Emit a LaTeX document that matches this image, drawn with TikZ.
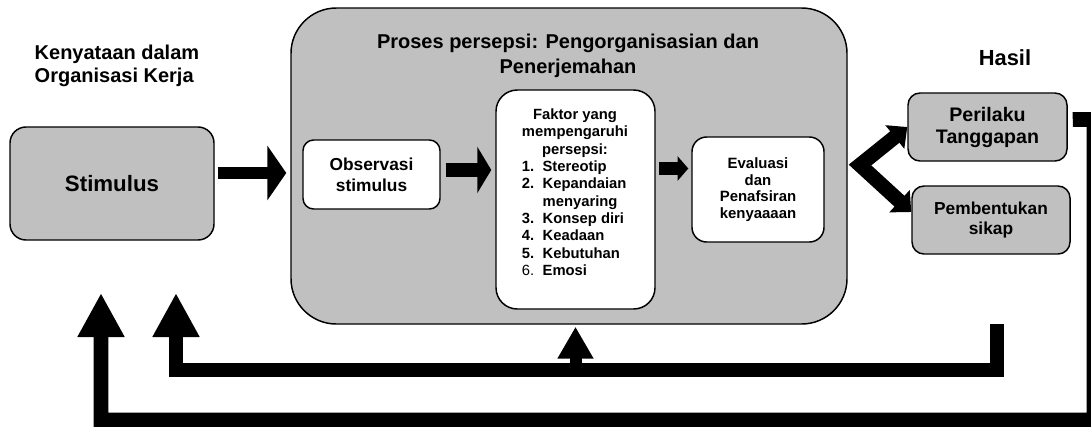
\documentclass[tikz,border=0pt]{standalone}
\usepackage{fontspec}
\setmainfont{Liberation Sans}
\usetikzlibrary{positioning}
\usetikzlibrary{arrows.meta}
\definecolor{boxgray}{RGB}{192,192,192}

\begin{document}
\begin{tikzpicture}[x=0.75pt,y=-0.75pt,
graybox/.style={rectangle,draw=black,line width=1.1pt,fill=boxgray,align=center,inner sep=0pt},
whitebox/.style={rectangle,draw=black,line width=1.1pt,fill=white,align=center,inner sep=0pt},
heading/.style={font=\bfseries\fontsize{15}{17.25}\selectfont},
bigarrow/.style={line width=9pt,-{Triangle[length=14.25pt,width=40.5pt]}},
obsarrow/.style={line width=10.5pt,-{Triangle[length=10.5pt,width=34.5pt]}},
fakarrow/.style={line width=9.75pt,-{Triangle[length=8pt,width=18pt]}},
forkarrow/.style={line width=11pt,line join=miter,{Triangle[length=12pt,width=22pt]}-{Triangle[length=12pt,width=22pt]}},
fbarrow/.style={line width=11pt,line join=miter,-{Triangle[length=33pt,width=33pt]}},
midarrow/.style={line width=9pt,-{Triangle[length=24pt,width=25.5pt]}}]
\useasboundingbox (0,0) rectangle (1091,426);
\clip (0,0) rectangle (1091,426);

\node[graybox,rounded corners=34pt,minimum width=417pt,minimum height=237pt] (proc) at (569,166) {};
\node[heading,font=\bfseries\fontsize{15}{18.75}\selectfont,align=center] (proctitle) at (568,55.5) {Proses persepsi: Pengorganisasian dan\\Penerjemahan};
\node[heading,align=left,anchor=west] (real) at (30,66) {Kenyataan dalam\\Organisasi Kerja};
\node[heading,font=\bfseries\fontsize{16.4}{20}\selectfont] (hasil) at (1005,58) {Hasil};

\node[graybox,rounded corners=12pt,minimum width=153pt,minimum height=84.75pt,font=\bfseries\fontsize{16.7}{20}\selectfont] (stim) at (112,183.5) {Stimulus};
\node[whitebox,rounded corners=8pt,minimum width=102.75pt,minimum height=51.75pt,font=\bfseries\fontsize{13}{15.75}\selectfont] (obs) at (371.5,174.5) {Observasi\\stimulus};
\node[whitebox,rounded corners=16pt,minimum width=119.25pt,minimum height=164.25pt] (fak) at (575.5,199.5) {};
\node[font=\bfseries\fontsize{11.1}{13}\selectfont,inner sep=0pt] (faktxt) at (575,194) {\begin{tabular}{@{}p{15.5pt}@{}l@{}}
\multicolumn{2}{@{}c@{}}{Faktor yang}\\
\multicolumn{2}{@{}c@{}}{mempengaruhi}\\
\multicolumn{2}{@{}c@{}}{persepsi:}\\
1. & Stereotip\\
2. & Kepandaian\\
 & menyaring\\
3. & Konsep diri\\
4. & Keadaan\\
5. & Kebutuhan\\
\mdseries 6. & Emosi
\end{tabular}};
\node[whitebox,rounded corners=11pt,minimum width=99pt,minimum height=78.75pt,font=\bfseries\fontsize{11.2}{12.5}\selectfont] (eval) at (758,189.5) {Evaluasi\\dan\\Penafsiran\\kenyaaaan};
\node[graybox,rounded corners=9pt,minimum width=119.25pt,minimum height=51pt,font=\bfseries\fontsize{14.7}{16.5}\selectfont] (per) at (987.5,127) {Perilaku\\Tanggapan};
\node[graybox,rounded corners=9pt,minimum width=118.5pt,minimum height=51pt,font=\bfseries\fontsize{13}{15}\selectfont] (pem) at (991,220) {Pembentukan\\sikap};

\draw[bigarrow] ([xshift=2.25pt,yshift=7.9pt]stim.east) -- ([xshift=-3pt,yshift=7.9pt]stim.east -| proc.west);
\draw[obsarrow] ([xshift=3.75pt,yshift=3.4pt]obs.east) -- ([xshift=-3pt,yshift=3.4pt]obs.east -| fak.west);
\draw[fakarrow] ([xshift=2.25pt,yshift=23.25pt]fak.east) -- ([xshift=-2.25pt,yshift=23.25pt]fak.east -| eval.west);
\coordinate (fork) at (860,165);
\draw[forkarrow] (per.west) -- (fork) -- ([yshift=6pt]pem.west);

% feedback loops
\coordinate (fbR) at (997,324);
\coordinate (fbL) at (176,370);
\coordinate (fbLtip) at (176,293);
\draw[fbarrow] (fbR) |- (fbL) -- (fbLtip);
\draw[midarrow] (fak.south |- fbL) -- ([yshift=-1.5pt]fak.south |- proc.south);
\coordinate (outR) at (1094,119.5);
\coordinate (outB) at (1094,420);
\coordinate (outL) at (101,420);
\coordinate (outLtip) at (101,293);
\draw[fbarrow] ([xshift=3.75pt,yshift=5.6pt]per.east) -- (outR) -- (outB) -- (outL) -- (outLtip);
\end{tikzpicture}
\end{document}
